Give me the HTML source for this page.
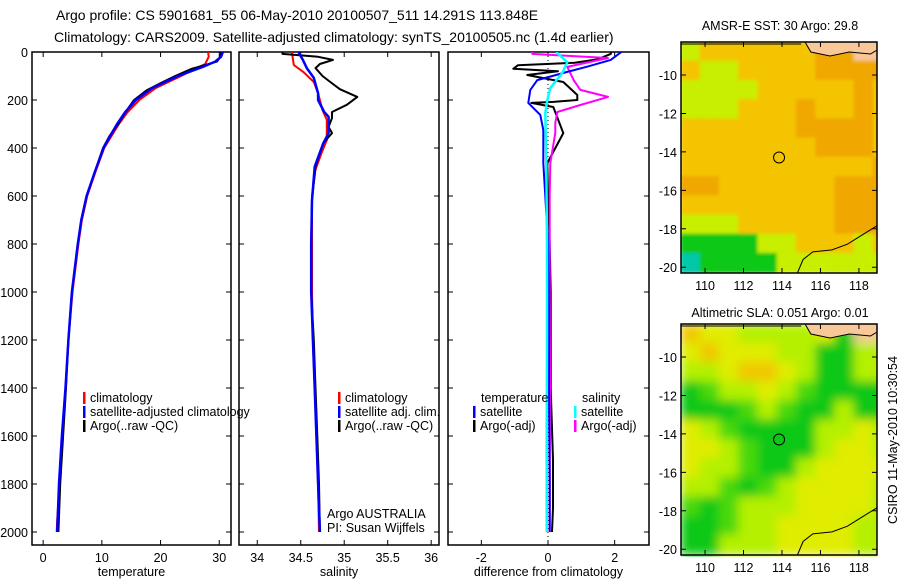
<!DOCTYPE html>
<html><head><meta charset="utf-8"><style>
body{margin:0;background:#fff}
svg text{font-family:"Liberation Sans",sans-serif;fill:#000}
</style></head><body>
<svg id="s" width="900" height="580" viewBox="0 0 900 580" xmlns="http://www.w3.org/2000/svg">
<defs>
<clipPath id="c1"><rect x="32" y="52" width="199" height="493"/></clipPath>
<clipPath id="c2"><rect x="239" y="52" width="200" height="493"/></clipPath>
<clipPath id="c3"><rect x="448" y="52" width="201" height="493"/></clipPath>
<clipPath id="m1"><rect x="681" y="42" width="196" height="231"/></clipPath>
<clipPath id="m2"><rect x="681" y="324" width="196" height="233"/></clipPath>
<filter id="bl" x="-5%" y="-5%" width="110%" height="110%"><feGaussianBlur stdDeviation="5"/></filter>
<filter id="bl1" x="-5%" y="-5%" width="110%" height="110%"><feGaussianBlur stdDeviation="1.5"/></filter>
</defs>
<text x="56" y="20" font-size="14">Argo profile: CS 5901681_55 06-May-2010 20100507_511 14.291S 113.848E</text>
<text x="54" y="42" font-size="14">Climatology: CARS2009. Satellite-adjusted climatology: synTS_20100505.nc (1.4d earlier)</text>
<text x="780" y="30" font-size="12.5" text-anchor="middle">AMSR-E SST: 30 Argo: 29.8</text>
<text x="780" y="317" font-size="12.5" text-anchor="middle">Altimetric SLA: 0.051 Argo: 0.01</text>
<text transform="translate(897,440) rotate(-90)" font-size="12.5" text-anchor="middle">CSIRO 11-May-2010 10:30:54</text>
<g id="g"></g>
</svg>
<script>
// ---- depth axis ----
const depthTicks = [0,200,400,600,800,1000,1200,1400,1600,1800,2000];
// ---- temperature panel ----
const tempClimDepth = [0,20,50,75,100,150,200,250,300,400,500,600,700,800,1000,1200,1400,1600,1800,1950,2000];
const tempClimVal   = [28.1,28.2,27.6,25.5,23.5,19.2,16.4,14.4,12.9,10.4,8.9,7.5,6.6,6.0,5.0,4.3,3.8,3.3,2.8,2.4,2.3];
const tempArgoDepth = [0,20,40,55,70,100,130,160,200,230,260,300,350,400,500,600,700,800,1000,1200,1400,1600,1800,2000];
const tempArgoVal   = [30.3,30.2,29.6,27.5,25.3,22.5,20.0,17.6,15.5,14.6,13.8,12.8,11.3,10.2,8.8,7.4,6.5,5.9,4.9,4.3,3.9,3.4,2.9,2.6];
const tempSatDepth  = [0,20,40,60,100,150,200,250,300,350,400,500,600,700,800,1000,1200,1400,1600,1800,2000];
const tempSatVal    = [30.6,30.3,29.3,27.4,23.0,18.6,15.8,14.0,12.6,11.4,10.3,8.8,7.4,6.5,5.9,4.9,4.3,3.8,3.2,2.7,2.4];
const tempTicks = [0,10,20,30];
// ---- salinity panel ----
const salClimDepth = [0,30,54,83,125,172,242,283,367,420,490,600,800,1000,1200,1400,1600,1800,2000];
const salClimVal   = [34.4,34.41,34.42,34.53,34.65,34.7,34.75,34.8,34.8,34.74,34.67,34.63,34.63,34.63,34.64,34.66,34.68,34.7,34.71];
const salArgoDepth = [0,8,20,33,50,67,100,125,155,187,220,250,275,312,338,380,478,617,800,1000,1200,1400,1600,1800,2000];
const salArgoVal   = [34.29,34.29,34.7,34.87,34.72,34.67,34.75,34.84,34.95,35.15,35.03,34.86,34.86,34.82,34.86,34.76,34.67,34.63,34.62,34.62,34.65,34.67,34.69,34.71,34.72];
const salSatDepth  = [0,5,30,67,108,172,200,250,270,338,380,478,617,800,1000,1200,1400,1600,1800,2000];
const salSatVal    = [34.48,34.48,34.52,34.57,34.65,34.7,34.7,34.77,34.82,34.82,34.76,34.66,34.63,34.62,34.62,34.64,34.66,34.68,34.7,34.72];
const salTicks = [34,34.5,35,35.5,36];
const salTickLabels = ['34','34.5','35','35.5','36'];
// ---- difference panel ----
const dTempSatDepth  = [0,8,33,60,83,117,158,212,262,325,463,600,800,1000,1400,1800,2000];
const dTempSatVal    = [2.2,2.12,1.88,1.2,0.58,-0.32,-0.53,-0.59,-0.23,-0.14,-0.14,-0.08,0.0,0.02,0.03,0.05,0.05];
const dTempArgoDepth = [0,8,30,45,55,70,80,96,125,179,200,208,212,229,338,463,600,800,1000,1400,1700,1900,2000];
const dTempArgoVal   = [1.9,1.88,1.5,0.8,-0.9,-1.04,0.3,-0.62,0.46,0.88,0.88,0.16,-0.5,0.16,0.46,-0.02,0.0,0.05,0.08,0.08,0.15,0.15,0.12];
const dSalArgoDepth  = [0,8,25,62,117,158,187,221,250,296,338,463,600,1000,1400,2000];
const dSalArgoVal    = [-0.47,-0.47,1.8,0.58,0.77,0.97,1.8,0.97,0.28,0.22,0.22,0.07,0.05,0.05,0.06,0.05];
const dSalSatDepth   = [0,5,42,87,150,200,254,463,800,1200,1600,2000];
const dSalSatVal     = [0.28,0.28,0.58,0.43,0.07,-0.02,-0.08,-0.05,-0.03,-0.03,-0.04,-0.04];
const diffTicks = [-2,0,2];
// ---- maps ----
const lonTicks = [110,112,114,116,118];
const latTicks = [-10,-12,-14,-16,-18,-20];
const argoLon = 113.848, argoLat = -14.291;
const sstGrid = ["LooooooOOPP","oLLooooOOOO","LLLLoooooOo","LLLoooOooOo","ooooooOOOOo","oooooooOOOo","ooooooooooO","OOooooooOOO","ooooooooOOO","LLLoooooOOO","GGGGLLoooLo","TGGGGLLLLLL"];
const slaGrid = ["OYYLLLLYGPP","YOYYYLLGGLL","LLYOOYLGGLL","GgLLYLgGGGG","GGGgLgGGLGG","YLgGGGGLLYL","YYLgGGGLYYL","YLLgGGLYYYY","LLgGgLYYYYL","gGgLLLYYYYL","GGgLLYYYYLL","GGLLLYYYYLL"];
const coastLon = [119,118.2,117.4,116.6,115.6,115.1,114.8];
const coastLat = [-17.8,-18.3,-18.8,-19.1,-19.2,-19.6,-20.3];

const NS='http://www.w3.org/2000/svg';
const G=document.getElementById('g');
function mk(tag,at,parent){const e=document.createElementNS(NS,tag);for(const k in at)e.setAttribute(k,at[k]);(parent||G).appendChild(e);return e;}
const Y0=52, DY=0.24;
const yD=d=>Y0+d*DY;

function panel(x0,x1,vmin,vmax,ticks,labels,title,clip,name){
  const xs=v=>x0+(v-vmin)/(vmax-vmin)*(x1-x0);
  const f=mk('rect',{x:x0,y:52,width:x1-x0,height:493,fill:'none',stroke:'#000','stroke-width':1.5});
  
  
  depthTicks.forEach(d=>{
    const t=mk('path',{d:`M${x0},${yD(d)}h5M${x1},${yD(d)}h-5`,stroke:'#000','stroke-width':1});
    
    
  });
  ticks.forEach((v,i)=>{
    const t=mk('path',{d:`M${xs(v)},545v-5M${xs(v)},52v5`,stroke:'#000','stroke-width':1});
    
    
    const l=mk('text',{x:xs(v),y:562,'font-size':12.5,'text-anchor':'middle'});
    l.textContent=labels[i];
    
    
  });
  const tt=mk('text',{x:(x0+x1)/2,y:576,'font-size':12.5,'text-anchor':'middle'});
  tt.textContent=title;
  
  
  return xs;
}
function line(xs,dep,val,color,w,clip,name){
  const pts=dep.map((d,i)=>xs(val[i]).toFixed(1)+','+yD(d).toFixed(1)).join(' ');
  const p=mk('polyline',{points:pts,fill:'none',stroke:color,'stroke-width':w,'clip-path':`url(#${clip})`,'stroke-linejoin':'round'});
  
  
}
function leg(x,y,color,txt,name){
  if(color){const m=mk('rect',{x:x,y:y-10,width:2.5,height:12,fill:color});
    
    }
  const t=mk('text',{x:x+7,y:y,'font-size':12.5});
  t.textContent=txt;
  
  
}
// depth labels
depthTicks.forEach(d=>{
  const l=mk('text',{x:28,y:yD(d)+5,'font-size':12.5,'text-anchor':'end'});
  l.textContent=String(d);
  
  
});
// temperature
let xs=panel(32,231,-1.9,32,tempTicks,tempTicks.map(String),'temperature','c1','temperature-panel');
line(xs,tempClimDepth,tempClimVal,'#f00',2,'c1','temp-climatology-line');
line(xs,tempArgoDepth,tempArgoVal,'#000',2,'c1','temp-argo-line');
line(xs,tempSatDepth,tempSatVal,'#00f',2.5,'c1','temp-satellite-line');
leg(83,402,'#f00','climatology','temp-legend-climatology');
leg(83,416,'#00f','satellite-adjusted climatology','temp-legend-satellite');
leg(83,430,'#000','Argo(..raw -QC)','temp-legend-argo');
// salinity
xs=panel(239,439,33.79,36.09,salTicks,salTickLabels,'salinity','c2','salinity-panel');
line(xs,salClimDepth,salClimVal,'#f00',2,'c2','sal-climatology-line');
line(xs,salArgoDepth,salArgoVal,'#000',2,'c2','sal-argo-line');
line(xs,salSatDepth,salSatVal,'#00f',2.5,'c2','sal-satellite-line');
leg(338,402,'#f00','climatology','sal-legend-climatology');
leg(338,416,'#00f','satellite adj. clim.','sal-legend-satellite');
leg(338,430,'#000','Argo(..raw -QC)','sal-legend-argo');
leg(320,518,null,'Argo AUSTRALIA','argo-australia-label');
leg(320,532,null,'PI: Susan Wijffels','pi-label');
// difference
xs=panel(448,649,-3,3.03,diffTicks,diffTicks.map(String),'difference from climatology','c3','difference-panel');
const zl=mk('path',{d:`M${xs(0)},52V545`,stroke:'#000','stroke-width':1,'stroke-dasharray':'1,3'});


line(xs,dTempArgoDepth,dTempArgoVal,'#000',2,'c3','diff-temp-argo-line');
line(xs,dSalArgoDepth,dSalArgoVal,'#f0f',2,'c3','diff-sal-argo-line');
line(xs,dTempSatDepth,dTempSatVal,'#00f',2,'c3','diff-temp-satellite-line');
line(xs,dSalSatDepth,dSalSatVal,'#0ff',2.5,'c3','diff-sal-satellite-line');
leg(474,402,null,'temperature','diff-legend-temperature');
leg(473,416,'#00f','satellite','diff-legend-temp-satellite');
leg(473,430,'#000','Argo(-adj)','diff-legend-temp-argo');
leg(575,402,null,'salinity','diff-legend-salinity');
leg(574,416,'#0ff','satellite','diff-legend-sal-satellite');
leg(574,430,'#f0f','Argo(-adj)','diff-legend-sal-argo');

// maps
const PAL={L:'#c8ee00',o:'#f4c400',O:'#f0a800',Y:'#e0e400',G:'#10c818',g:'#50dc10',T:'#00c8a8',P:'#f8c898'};
const PAL2={L:'#b4f000',o:'#f4c400',O:'#f0c800',Y:'#e0ec00',G:'#10c818',g:'#48d810',T:'#00c8a8',P:'#f8c898'};
function map(top,grid,pal,clip,blur,name){
  const L0=108.75,L1=118.94,A0=-8.28,A1=-20.3,x0=681,x1=877,y1=top+231;
  const lx=v=>x0+(v-L0)/(L1-L0)*(x1-x0);
  const ly=v=>top+(A0-v)/(A0-A1)*(y1-top);
  const cg=mk('g',{'clip-path':`url(#${clip})`});
  
  
  const inner=mk('g',{filter:`url(#${blur})`},cg);
  grid.forEach((row,r)=>{[...row].forEach((c,k)=>{
    mk('rect',{x:lx(L0+k)-0.5,y:ly(A0-r)-0.5,width:lx(L0+1)-x0+1,height:ly(A0-1)-top+1,fill:pal[c]},inner);
  });});
  const land=mk('path',{d:`M${lx(115.2)},${top}L${lx(115.5)},${top+10}L${lx(116.5)},${top+14}L${lx(117.5)},${top+10}L${lx(118.6)},${top+12}L${x1},${top+8}V${top}Z`,fill:'#f8c898',stroke:'#000','stroke-width':1},cg);
  
  
  const cl=mk('polyline',{points:coastLon.map((v,i)=>lx(v).toFixed(1)+','+ly(coastLat[i]).toFixed(1)).join(' '),fill:'none',stroke:'#000','stroke-width':1},cg);
  
  
  const tl=mk('path',{d:`M${x0},${top+2}H${lx(115)}`,stroke:'#000','stroke-width':1},cg);
  
  
  const c=mk('circle',{cx:lx(argoLon),cy:ly(argoLat),r:5.5,fill:'none',stroke:'#000','stroke-width':1});
  
  
  const f=mk('rect',{x:x0,y:top,width:x1-x0,height:y1-top,fill:'none',stroke:'#000','stroke-width':1.5});
  
  
  lonTicks.forEach(v=>{
    const t=mk('path',{d:`M${lx(v)},${y1}v-5M${lx(v)},${top}v5`,stroke:'#000'});
    
    
    const l=mk('text',{x:lx(v),y:y1+17,'font-size':12.5,'text-anchor':'middle'});
    l.textContent=String(v);
    
    
  });
  latTicks.forEach(v=>{
    const t=mk('path',{d:`M${x0},${ly(v)}h5M${x1},${ly(v)}h-5`,stroke:'#000'});
    
    
    const l=mk('text',{x:677,y:ly(v)+5,'font-size':12.5,'text-anchor':'end'});
    l.textContent=String(v);
    
    
  });
}
map(42,sstGrid,PAL,'m1','bl1','sst-map');
map(324,slaGrid,PAL2,'m2','bl','sla-map');
</script>
</body></html>
